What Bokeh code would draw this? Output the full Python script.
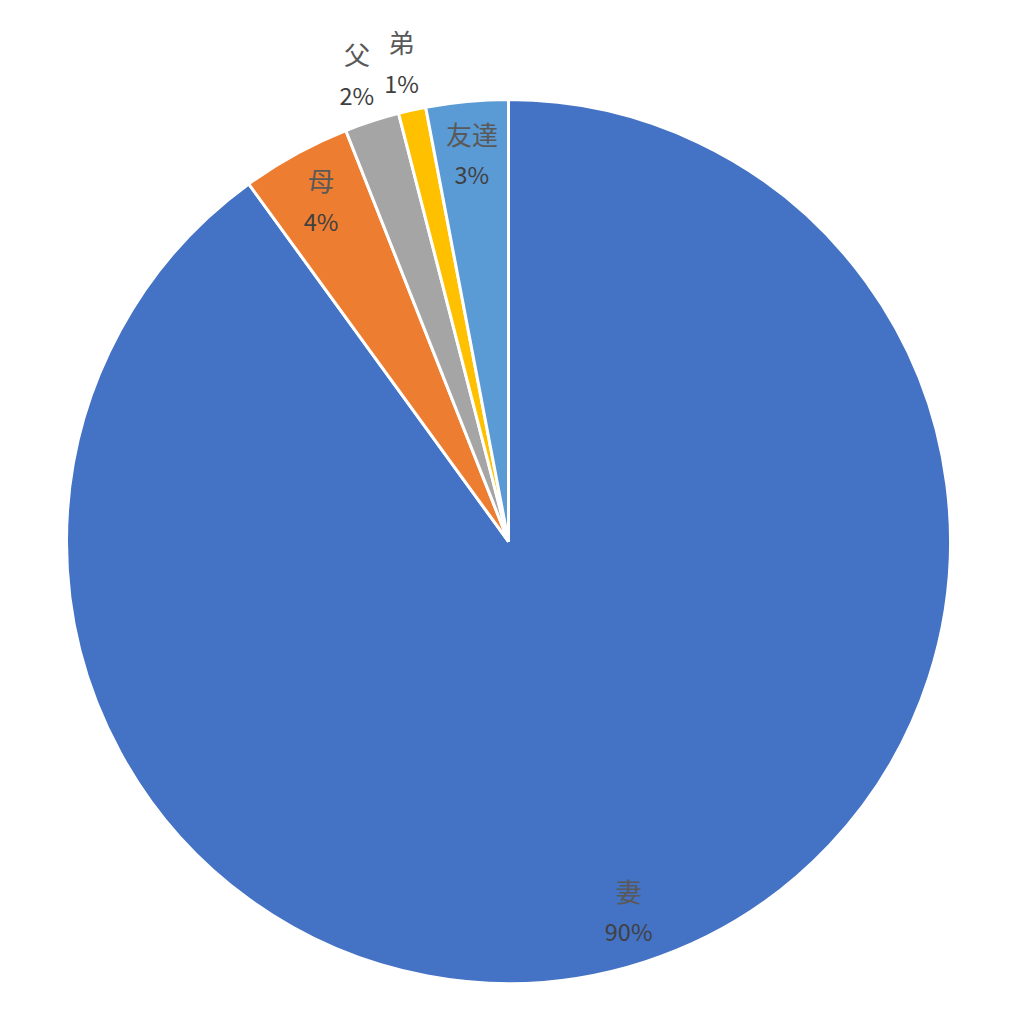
import math
from bokeh.plotting import figure
from bokeh.models import Range1d, ColumnDataSource
from bokeh.core.properties import value
from bokeh.embed import file_html
from bokeh.resources import INLINE

categories = ["妻", "母", "父", "弟", "友達"]
percents = [90, 4, 2, 1, 3]
colors = ["#4472C4", "#ED7D31", "#A5A5A5", "#FFC000", "#5B9BD5"]
outside = [False, False, True, True, False]

W, H = 1003, 1008
CX, CY, R = 508, 1008 - 541, 442

p = figure(width=W, height=H, output_backend="svg", toolbar_location=None,
           x_range=Range1d(0, W), y_range=Range1d(0, H),
           x_axis_location=None, y_axis_location=None, min_border=0)
p.grid.visible = False
p.outline_line_color = None
p.background_fill_color = "white"

total = sum(percents)
starts, ends, lx, ly = [], [], [], []
cum = 0.0
for v, out in zip(percents, outside):
    a0 = math.pi / 2 - 2 * math.pi * cum / total
    a1 = math.pi / 2 - 2 * math.pi * (cum + v) / total
    starts.append(a0)
    ends.append(a1)
    mid = (a0 + a1) / 2
    rl = R * (1.11 if out else 0.88)
    lx.append(CX + rl * math.cos(mid))
    ly.append(CY + rl * math.sin(mid))
    cum += v

src = ColumnDataSource(dict(start=starts, end=ends, color=colors))
p.wedge(x=CX, y=CY, radius=R, start_angle="start", end_angle="end",
        direction="clock", fill_color="color", line_color="white",
        line_width=3, source=src)

lab = ColumnDataSource(dict(
    x=lx,
    yc=[y + 21 for y in ly],
    yp=[y - 20 for y in ly],
    cat=categories,
    pct=[f"{v}%" for v in percents],
))
p.text(x="x", y="yc", text="cat", source=lab, text_align="center",
       text_baseline="middle", text_font=value("Noto Sans CJK JP"),
       text_font_size="26px", text_color="#595959")
p.text(x="x", y="yp", text="pct", source=lab, text_align="center",
       text_baseline="middle", text_font=value("Noto Sans CJK JP"),
       text_font_size="23.5px", text_color="#404040")

open("out.html", "w").write(file_html(p, INLINE))
